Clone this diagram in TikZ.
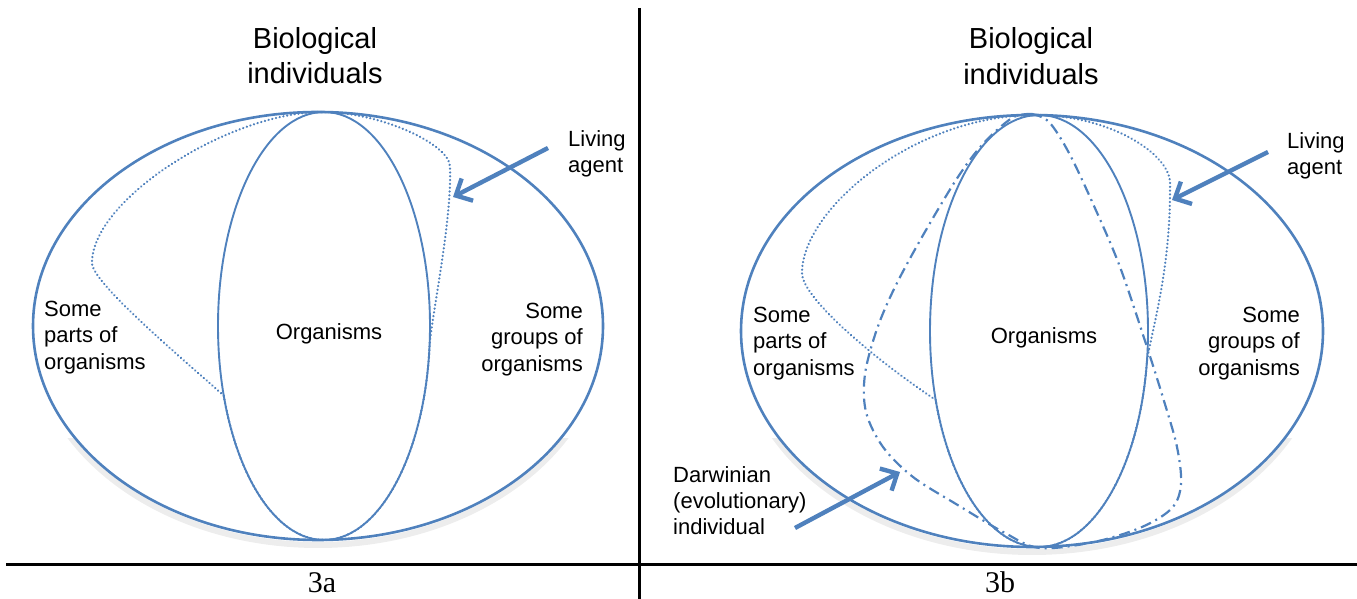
\documentclass[tikz,border=0pt]{standalone}
\usepackage{fontspec}
\setmainfont{Liberation Sans}
\newfontfamily\capfont{Liberation Serif}
\usetikzlibrary{arrows.meta}
\definecolor{setblue}{RGB}{79,129,189}
\begin{document}
\begin{tikzpicture}[x=1pt,y=1pt,
  outer/.style={draw=setblue, line width=2.6pt},
  inner/.style={draw=setblue, line width=1.9pt},
  agentline/.style={draw=setblue, line width=2.5pt, line cap=round, dash pattern=on 0.01pt off 3.8pt},
  darwinline/.style={draw=setblue, line width=2.2pt, dash pattern=on 11pt off 5pt on 2pt off 5pt},
  pointer/.style={draw=setblue, line width=4.4pt, -{Straight Barb[length=13pt,width=25pt]}},
  shade/.style={draw=black, opacity=0.07, line width=6pt},
  title/.style={font=\fontsize{29}{35.5}\selectfont, align=center, inner sep=0pt, anchor=north},
  lbl/.style={font=\fontsize{22}{26.3}\selectfont, inner sep=0pt},
  panel/.style={font=\capfont\fontsize{30}{36}\selectfont, inner sep=0pt, anchor=base},
  rule/.style={line width=3pt}
]
\useasboundingbox (0,0) rectangle (1357,599);

% frame rules separating the two panels and their captions
\draw[rule] (6,34) -- (1357,34);
\draw[rule] (639,591) -- (639,0);

% soft shadows under the lower rims of the large ellipses
\begin{scope}
  \clip (0,38) rectangle (1357,160);
  \draw[shade] (318,268) ellipse [x radius=285, y radius=214];
  \draw[shade] (1032,263) ellipse [x radius=291, y radius=216];
\end{scope}

% ---------- panel 3a ----------
\draw[outer] (318,273) ellipse [x radius=285, y radius=214];
\draw[inner] (324,273) ellipse [x radius=106, y radius=214];
\draw[agentline] (223.8,203.3) .. controls (184,239) and (92,316) .. (92,336)
  .. controls (92,400) and (230,487) .. (322,487)
  .. controls (380,487) and (450,455) .. (450,432)
  .. controls (452,380) and (433,290) .. (429.6,254.3)
  arc[start angle=-5, end angle=-161, x radius=106, y radius=214];

\node[title] (titleA) at (315,572) {Biological\\individuals};
\node[lbl, anchor=north west, align=left] (partsA) at (44,298) {Some\\parts of\\organisms};
\node[lbl] (orgA) at (329,265) {Organisms};
\node[lbl, anchor=north east, align=right] (groupsA) at (583,296) {Some\\groups of\\organisms};
\node[lbl, anchor=north west, align=left] (agentA) at (568,469) {Living\\agent};
\coordinate (agentTailA) at (548,451);
\coordinate (agentTipA) at (453,402);
\draw[pointer] (agentTailA) -- (agentTipA);
\node[panel] (capA) at (322,6) {3a};

% ---------- panel 3b ----------
\draw[outer] (1032,268) ellipse [x radius=291, y radius=216];
\draw[inner] (1039,268) ellipse [x radius=109, y radius=216];
\draw[agentline] (935.7,199.1) .. controls (880,236) and (802,300) .. (802,326)
  .. controls (802,390) and (915,484) .. (1035,484)
  .. controls (1110,484) and (1170,445) .. (1170,416)
  .. controls (1171,330) and (1152,270) .. (1146.9,237.9)
  arc[start angle=-8, end angle=-161.4, x radius=109, y radius=216];
\draw[darwinline] plot[smooth, tension=0.55] coordinates {
  (1032,485) (1012,481) (982,454) (956,419) (922,362) (895,312) (877,270)
  (865,225) (866,187) (883,152) (913,122) (956,95) (1005,66) (1040,51)
  (1094,57) (1142,72) (1172,91) (1181,115) (1177,152) (1164,198) (1146,255)
  (1120,332) (1094,393) (1069,446) (1049,477) (1032,485)};

\node[title] (titleB) at (1031,571.5) {Biological\\individuals};
\node[lbl, anchor=north west, align=left] (partsB) at (753,292) {Some\\parts of\\organisms};
\node[lbl] (orgB) at (1044,261) {Organisms};
\node[lbl, anchor=north east, align=right] (groupsB) at (1300,292) {Some\\groups of\\organisms};
\node[lbl, anchor=north west, align=left] (agentB) at (1287,467) {Living\\agent};
\node[lbl, anchor=north west, align=left] (darwinB) at (673,133) {Darwinian\\(evolutionary)\\individual};
\coordinate (agentTailB) at (1268,447);
\coordinate (agentTipB) at (1172,399);
\draw[pointer] (agentTailB) -- (agentTipB);
\coordinate (darwinTail) at (795,71);
\coordinate (darwinTip) at (900,127);
\draw[pointer] (darwinTail) -- (darwinTip);
\node[panel] (capB) at (1000,6) {3b};
\end{tikzpicture}
\end{document}
